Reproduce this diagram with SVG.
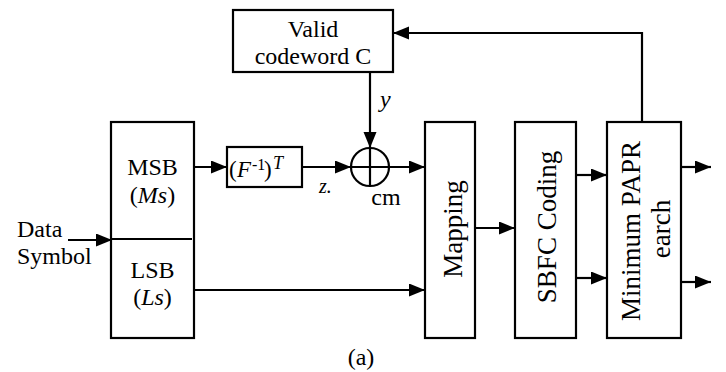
<svg xmlns="http://www.w3.org/2000/svg" width="726" height="372" viewBox="0 0 726 372">
<style>
.box{fill:#fff;stroke:#000;stroke-width:2.2}
.ln{fill:none;stroke:#000;stroke-width:2.2}
text{font-family:"Liberation Serif","Times New Roman",serif;fill:#000}
.t{font-size:24px;text-anchor:middle}
.r{font-size:27px;text-anchor:middle}
.i{font-style:italic}
</style>
<defs>
<marker id="ah" markerUnits="userSpaceOnUse" markerWidth="17" markerHeight="14" refX="16" refY="6.5" orient="auto">
<path d="M0,0 L16,6.5 L0,13 z" fill="#000"/>
</marker>
</defs>
<rect width="726" height="372" fill="#fff"/>
<g id="connectors">
<line class="ln" x1="68" y1="240" x2="112" y2="240" marker-end="url(#ah)"/>
<line class="ln" x1="194" y1="167" x2="227" y2="167" marker-end="url(#ah)"/>
<line class="ln" x1="302" y1="167" x2="351" y2="167" marker-end="url(#ah)"/>
<line class="ln" x1="370" y1="72" x2="370" y2="148" marker-end="url(#ah)"/>
<line class="ln" x1="389" y1="167" x2="425" y2="167" marker-end="url(#ah)"/>
<line class="ln" x1="194" y1="290" x2="425" y2="290" marker-end="url(#ah)"/>
<line class="ln" x1="475" y1="228" x2="515" y2="228" marker-end="url(#ah)"/>
<line class="ln" x1="576" y1="175" x2="607" y2="175" marker-end="url(#ah)"/>
<line class="ln" x1="576" y1="278" x2="607" y2="278" marker-end="url(#ah)"/>
<line class="ln" x1="681" y1="167" x2="711" y2="167" marker-end="url(#ah)"/>
<line class="ln" x1="681" y1="282" x2="711" y2="282" marker-end="url(#ah)"/>
<polyline class="ln" points="642,122 642,33 393,33" marker-end="url(#ah)"/>
</g>
<g id="valid">
<rect class="box" x="233" y="10" width="160" height="62"/>
<text class="t" font-family="Liberation Serif" x="313" y="37">Valid</text>
<text class="t" font-family="Liberation Serif" x="313" y="64">codeword C</text>
</g>
<g id="msblsb">
<rect class="box" x="111" y="122" width="83" height="216"/>
<line class="ln" x1="111" y1="239" x2="192" y2="239"/>
<text class="t" font-family="Liberation Serif" x="152.5" y="175">MSB</text>
<text class="t" font-family="Liberation Serif" x="152.5" y="203">(<tspan class="i">Ms</tspan>)</text>
<text class="t" font-family="Liberation Serif" x="152.5" y="278">LSB</text>
<text class="t" font-family="Liberation Serif" x="152.5" y="305">(<tspan class="i">Ls</tspan>)</text>
</g>
<g id="data">
<text font-family="Liberation Serif" font-size="24" x="17" y="237">Data</text>
<text font-family="Liberation Serif" font-size="24" x="17" y="264">Symbol</text>
</g>
<g id="ftrans">
<rect class="box" x="227" y="147" width="75" height="40"/>
<text font-family="Liberation Serif" font-size="23" y="177"><tspan x="229">(</tspan><tspan x="237" class="i">F</tspan><tspan x="252" y="170" font-size="16">-1</tspan><tspan x="264" y="177">)</tspan><tspan x="273" y="169" class="i" font-size="18">T</tspan></text>
</g>
<g id="adder">
<circle cx="370" cy="167" r="19" fill="#fff" stroke="#000" stroke-width="2.2"/>
<line class="ln" x1="351" y1="167" x2="389" y2="167"/>
<line class="ln" x1="370" y1="148" x2="370" y2="186"/>
</g>
<g id="labels">
<text class="i" font-family="Liberation Serif" font-size="24" x="380" y="107">y</text>
<text class="i" font-family="Liberation Serif" font-size="20" x="319" y="193">z.</text>
<text class="t" font-family="Liberation Serif" x="386" y="205">cm</text>
<text class="t" font-family="Liberation Serif" font-size="22" x="361" y="365">(a)</text>
</g>
<g id="mapping">
<rect class="box" x="425" y="122" width="50" height="216"/>
<text class="r" font-family="Liberation Serif" transform="translate(462,229) rotate(-90)">Mapping</text>
</g>
<g id="sbfc">
<rect class="box" x="515" y="122" width="61" height="216"/>
<text class="r" font-family="Liberation Serif" transform="translate(556,227) rotate(-90)">SBFC Coding</text>
</g>
<g id="papr">
<rect class="box" x="607" y="122" width="74" height="216"/>
<text class="r" font-family="Liberation Serif" transform="translate(640,231) rotate(-90)">Minimum PAPR</text>
<text class="r" font-family="Liberation Serif" transform="translate(670,229) rotate(-90)">earch</text>
</g>
</svg>
